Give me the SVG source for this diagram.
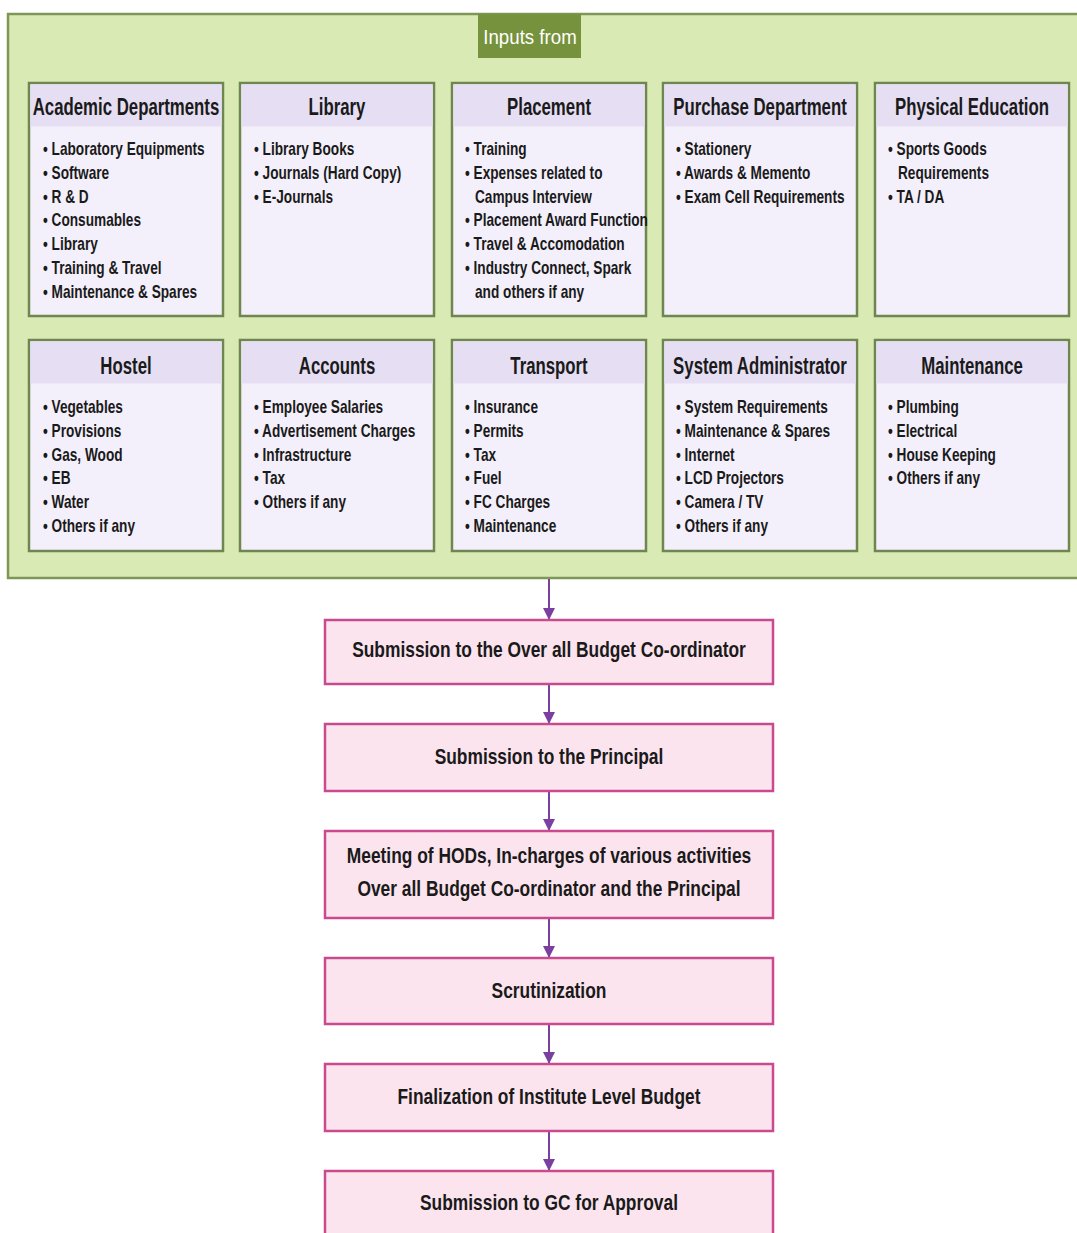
<svg xmlns="http://www.w3.org/2000/svg" width="1077" height="1233" viewBox="0 0 1077 1233">
<defs>
<style>
.outer{fill:#D9EAB5;stroke:#7E9656;stroke-width:2.5}
.tab{fill:#76923C}
.tabt{font-family:"Liberation Sans",Arial,sans-serif;font-size:21px;fill:#fff;text-anchor:middle}
.box{fill:#F4F0FB;stroke:#6F8650;stroke-width:2.5}
.hdr{fill:#E6DEF3}
.ht{font-family:"Liberation Sans",Arial,sans-serif;font-weight:bold;font-size:23px;fill:#1a1a1a;text-anchor:middle}
.it{font-family:"Liberation Sans",Arial,sans-serif;font-weight:bold;font-size:17.5px;fill:#1a1a1a}
.fb{fill:#FCE4EF;stroke:#C94A8E;stroke-width:2.5}
.ft{font-family:"Liberation Sans",Arial,sans-serif;font-weight:bold;font-size:22px;fill:#1a1a1a;text-anchor:middle}
.con{stroke:#7B3FA0;stroke-width:2;fill:none}
</style>
<marker id="ah" viewBox="0 0 10 10" refX="10" refY="5" markerWidth="6" markerHeight="6" markerUnits="strokeWidth" orient="auto">
<path d="M0,0 L10,5 L0,10 z" fill="#7B3FA0"/>
</marker>
</defs>
<rect width="1077" height="1233" fill="#fff"/>

<g id="inputs">
<rect class="outer" x="8" y="14" width="1080" height="564"/>
<rect class="tab" x="478" y="14" width="103" height="44"/>
<text class="tabt" transform="translate(530 44) scale(0.89 1)">Inputs from</text>
</g>

<g id="academic">
<rect class="box" x="29" y="83" width="194" height="233"/>
<rect class="hdr" x="30.5" y="84.5" width="191" height="42"/>
<text class="ht" transform="translate(126 115) scale(0.73 1)">Academic Departments</text>
<text class="it" transform="translate(43 155) scale(0.78 1)">• Laboratory Equipments</text>
<text class="it" transform="translate(43 179) scale(0.78 1)">• Software</text>
<text class="it" transform="translate(43 203) scale(0.78 1)">• R &amp; D</text>
<text class="it" transform="translate(43 226) scale(0.78 1)">• Consumables</text>
<text class="it" transform="translate(43 250) scale(0.78 1)">• Library</text>
<text class="it" transform="translate(43 274) scale(0.78 1)">• Training &amp; Travel</text>
<text class="it" transform="translate(43 298) scale(0.78 1)">• Maintenance &amp; Spares</text>
</g>

<g id="library">
<rect class="box" x="240" y="83" width="194" height="233"/>
<rect class="hdr" x="241.5" y="84.5" width="191" height="42"/>
<text class="ht" transform="translate(337 115) scale(0.73 1)">Library</text>
<text class="it" transform="translate(254 155) scale(0.78 1)">• Library Books</text>
<text class="it" transform="translate(254 179) scale(0.78 1)">• Journals (Hard Copy)</text>
<text class="it" transform="translate(254 203) scale(0.78 1)">• E-Journals</text>
</g>

<g id="placement">
<rect class="box" x="452" y="83" width="194" height="233"/>
<rect class="hdr" x="453.5" y="84.5" width="191" height="42"/>
<text class="ht" transform="translate(549 115) scale(0.73 1)">Placement</text>
<text class="it" transform="translate(465 155) scale(0.78 1)">• Training</text>
<text class="it" transform="translate(465 179) scale(0.78 1)">• Expenses related to</text>
<text class="it" transform="translate(475 203) scale(0.78 1)">Campus Interview</text>
<text class="it" transform="translate(465 226) scale(0.78 1)">• Placement Award Function</text>
<text class="it" transform="translate(465 250) scale(0.78 1)">• Travel &amp; Accomodation</text>
<text class="it" transform="translate(465 274) scale(0.78 1)">• Industry Connect, Spark</text>
<text class="it" transform="translate(475 298) scale(0.78 1)">and others if any</text>
</g>

<g id="purchase">
<rect class="box" x="663" y="83" width="194" height="233"/>
<rect class="hdr" x="664.5" y="84.5" width="191" height="42"/>
<text class="ht" transform="translate(760 115) scale(0.73 1)">Purchase Department</text>
<text class="it" transform="translate(676 155) scale(0.78 1)">• Stationery</text>
<text class="it" transform="translate(676 179) scale(0.78 1)">• Awards &amp; Memento</text>
<text class="it" transform="translate(676 203) scale(0.78 1)">• Exam Cell Requirements</text>
</g>

<g id="physical">
<rect class="box" x="875" y="83" width="194" height="233"/>
<rect class="hdr" x="876.5" y="84.5" width="191" height="42"/>
<text class="ht" transform="translate(972 115) scale(0.73 1)">Physical Education</text>
<text class="it" transform="translate(888 155) scale(0.78 1)">• Sports Goods</text>
<text class="it" transform="translate(898 179) scale(0.78 1)">Requirements</text>
<text class="it" transform="translate(888 203) scale(0.78 1)">• TA / DA</text>
</g>

<g id="hostel">
<rect class="box" x="29" y="340" width="194" height="211"/>
<rect class="hdr" x="30.5" y="341.5" width="191" height="42"/>
<text class="ht" transform="translate(126 374) scale(0.73 1)">Hostel</text>
<text class="it" transform="translate(43 413) scale(0.78 1)">• Vegetables</text>
<text class="it" transform="translate(43 437) scale(0.78 1)">• Provisions</text>
<text class="it" transform="translate(43 461) scale(0.78 1)">• Gas, Wood</text>
<text class="it" transform="translate(43 484) scale(0.78 1)">• EB</text>
<text class="it" transform="translate(43 508) scale(0.78 1)">• Water</text>
<text class="it" transform="translate(43 532) scale(0.78 1)">• Others if any</text>
</g>

<g id="accounts">
<rect class="box" x="240" y="340" width="194" height="211"/>
<rect class="hdr" x="241.5" y="341.5" width="191" height="42"/>
<text class="ht" transform="translate(337 374) scale(0.73 1)">Accounts</text>
<text class="it" transform="translate(254 413) scale(0.78 1)">• Employee Salaries</text>
<text class="it" transform="translate(254 437) scale(0.78 1)">• Advertisement Charges</text>
<text class="it" transform="translate(254 461) scale(0.78 1)">• Infrastructure</text>
<text class="it" transform="translate(254 484) scale(0.78 1)">• Tax</text>
<text class="it" transform="translate(254 508) scale(0.78 1)">• Others if any</text>
</g>

<g id="transport">
<rect class="box" x="452" y="340" width="194" height="211"/>
<rect class="hdr" x="453.5" y="341.5" width="191" height="42"/>
<text class="ht" transform="translate(549 374) scale(0.73 1)">Transport</text>
<text class="it" transform="translate(465 413) scale(0.78 1)">• Insurance</text>
<text class="it" transform="translate(465 437) scale(0.78 1)">• Permits</text>
<text class="it" transform="translate(465 461) scale(0.78 1)">• Tax</text>
<text class="it" transform="translate(465 484) scale(0.78 1)">• Fuel</text>
<text class="it" transform="translate(465 508) scale(0.78 1)">• FC Charges</text>
<text class="it" transform="translate(465 532) scale(0.78 1)">• Maintenance</text>
</g>

<g id="sysadmin">
<rect class="box" x="663" y="340" width="194" height="211"/>
<rect class="hdr" x="664.5" y="341.5" width="191" height="42"/>
<text class="ht" transform="translate(760 374) scale(0.73 1)">System Administrator</text>
<text class="it" transform="translate(676 413) scale(0.78 1)">• System Requirements</text>
<text class="it" transform="translate(676 437) scale(0.78 1)">• Maintenance &amp; Spares</text>
<text class="it" transform="translate(676 461) scale(0.78 1)">• Internet</text>
<text class="it" transform="translate(676 484) scale(0.78 1)">• LCD Projectors</text>
<text class="it" transform="translate(676 508) scale(0.78 1)">• Camera / TV</text>
<text class="it" transform="translate(676 532) scale(0.78 1)">• Others if any</text>
</g>

<g id="maintenance">
<rect class="box" x="875" y="340" width="194" height="211"/>
<rect class="hdr" x="876.5" y="341.5" width="191" height="42"/>
<text class="ht" transform="translate(972 374) scale(0.73 1)">Maintenance</text>
<text class="it" transform="translate(888 413) scale(0.78 1)">• Plumbing</text>
<text class="it" transform="translate(888 437) scale(0.78 1)">• Electrical</text>
<text class="it" transform="translate(888 461) scale(0.78 1)">• House Keeping</text>
<text class="it" transform="translate(888 484) scale(0.78 1)">• Others if any</text>
</g>

<g id="connectors">
<line class="con" x1="549" y1="579" x2="549" y2="620" marker-end="url(#ah)"/>
<line class="con" x1="549" y1="685" x2="549" y2="724" marker-end="url(#ah)"/>
<line class="con" x1="549" y1="792" x2="549" y2="831" marker-end="url(#ah)"/>
<line class="con" x1="549" y1="919" x2="549" y2="958" marker-end="url(#ah)"/>
<line class="con" x1="549" y1="1025" x2="549" y2="1064" marker-end="url(#ah)"/>
<line class="con" x1="549" y1="1132" x2="549" y2="1171" marker-end="url(#ah)"/>
</g>

<g id="step1">
<rect class="fb" x="325" y="620" width="448" height="64"/>
<text class="ft" transform="translate(549 657) scale(0.79 1)">Submission to the Over all Budget Co-ordinator</text>
</g>
<g id="step2">
<rect class="fb" x="325" y="724" width="448" height="67"/>
<text class="ft" transform="translate(549 764) scale(0.79 1)">Submission to the Principal</text>
</g>
<g id="step3">
<rect class="fb" x="325" y="831" width="448" height="87"/>
<text class="ft" transform="translate(549 863) scale(0.79 1)">Meeting of HODs, In-charges of various activities</text>
<text class="ft" transform="translate(549 896) scale(0.79 1)">Over all Budget Co-ordinator and the Principal</text>
</g>
<g id="step4">
<rect class="fb" x="325" y="958" width="448" height="66"/>
<text class="ft" transform="translate(549 998) scale(0.79 1)">Scrutinization</text>
</g>
<g id="step5">
<rect class="fb" x="325" y="1064" width="448" height="67"/>
<text class="ft" transform="translate(549 1104) scale(0.79 1)">Finalization of Institute Level Budget</text>
</g>
<g id="step6">
<rect class="fb" x="325" y="1171" width="448" height="80"/>
<text class="ft" transform="translate(549 1210) scale(0.79 1)">Submission to GC for Approval</text>
</g>
</svg>
